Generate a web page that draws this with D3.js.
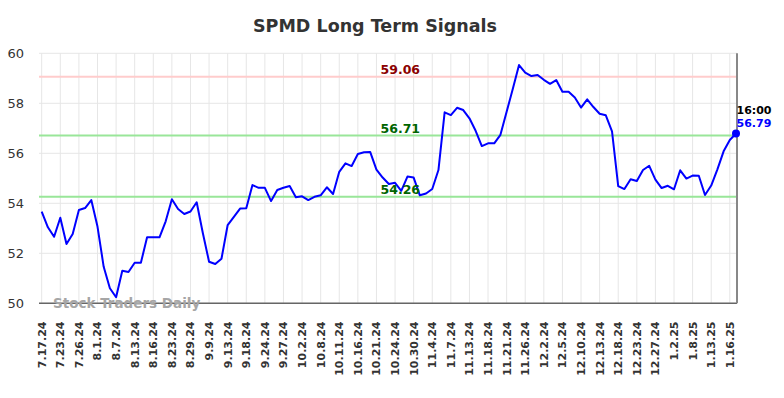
<!DOCTYPE html>
<html>
<head>
<meta charset="utf-8">
<script src="https://cdn.jsdelivr.net/npm/d3@7"></script>
<style>
  html, body { margin: 0; padding: 0; background: #fff; }
  svg { display: block; font-family: "DejaVu Sans", sans-serif; }
</style>
</head>
<body>
<div id="chart"></div>
<script>
const title = "SPMD Long Term Signals";
const tickLabels = ["7.17.24","7.23.24","7.26.24","8.1.24","8.7.24","8.13.24","8.16.24","8.23.24","8.29.24","9.9.24","9.13.24","9.18.24","9.24.24","9.27.24","10.2.24","10.8.24","10.11.24","10.16.24","10.21.24","10.24.24","10.30.24","11.4.24","11.7.24","11.13.24","11.18.24","11.21.24","11.26.24","12.2.24","12.5.24","12.10.24","12.13.24","12.18.24","12.23.24","12.27.24","1.2.25","1.8.25","1.13.25","1.16.25"];
const tickEvery = 3;
const prices = [53.67,53.04,52.66,53.42,52.37,52.77,53.73,53.81,54.13,53.07,
  51.46,50.6,50.24,51.3,51.25,51.62,51.62,52.64,52.64,52.64,
  53.28,54.16,53.77,53.57,53.67,54.04,52.8,51.66,51.57,51.78,
  53.13,53.46,53.79,53.8,54.73,54.62,54.62,54.09,54.53,54.62,
  54.69,54.24,54.28,54.13,54.26,54.32,54.64,54.37,55.26,55.6,
  55.49,55.97,56.04,56.05,55.35,55.03,54.77,54.82,54.5,55.07,
  55.03,54.32,54.39,54.57,55.33,57.64,57.53,57.82,57.73,57.4,
  56.9,56.29,56.4,56.4,56.74,57.66,58.58,59.53,59.23,59.09,
  59.13,58.94,58.78,58.93,58.46,58.46,58.23,57.83,58.16,57.85,
  57.58,57.52,56.88,54.69,54.57,54.96,54.89,55.33,55.5,54.95,
  54.61,54.7,54.56,55.32,54.99,55.11,55.1,54.33,54.71,55.36,
  56.08,56.53,56.79];
const signalValues = [59.06, 56.71, 54.26];
const signalKinds = ["resistance", "support", "support"];
const yTicks = [50, 52, 54, 56, 58, 60];
const lastTime = "16:00";
const watermark = "Stock Traders Daily";

(function () {
const W = 784, H = 398;
const pLeft = 39, pRight = 737, pTop = 53.3, pBottom = 303.3;

const svg = d3.select("#chart").append("svg").attr("width", W).attr("height", H);
svg.append("rect").attr("width", W).attr("height", H).attr("fill", "#fff");

const x = d3.scaleLinear().domain([0, prices.length - 1]).range([41.7, 736]);
const y = d3.scaleLinear().domain([50, 60]).range([pBottom, pTop]);

// grid
const grid = svg.append("g");
grid.append("g").selectAll("line").data(yTicks).join("line")
  .attr("x1", pLeft).attr("x2", pRight)
  .attr("y1", d => y(d)).attr("y2", d => y(d))
  .attr("stroke", "#e6e6e6").attr("stroke-width", 1);
grid.append("g").selectAll("line").data(tickLabels).join("line")
  .attr("x1", (d, i) => x(i * tickEvery)).attr("x2", (d, i) => x(i * tickEvery))
  .attr("y1", pTop).attr("y2", pBottom)
  .attr("stroke", "#e6e6e6").attr("stroke-width", 1);

// y tick labels
svg.append("g").selectAll("text").data(yTicks).join("text")
  .attr("x", 24).attr("y", d => y(d)).attr("dy", "0.36em")
  .attr("text-anchor", "end").attr("font-size", 13).attr("fill", "#333")
  .text(d => d);

// x tick labels
svg.append("g").selectAll("text").data(tickLabels).join("text")
  .attr("transform", (d, i) => `translate(${x(i * tickEvery)},321.5) rotate(-90)`)
  .attr("dy", "0.36em")
  .attr("text-anchor", "end").attr("font-size", 11).attr("font-weight", "bold").attr("fill", "#333")
  .text(d => d);

// signal lines
const sigColor = k => k === "resistance" ? "#ffcccc" : "#99e699";
const sigText = k => k === "resistance" ? "#8b0000" : "#006400";
svg.append("g").selectAll("line").data(signalValues).join("line")
  .attr("x1", pLeft).attr("x2", pRight)
  .attr("y1", d => y(d)).attr("y2", d => y(d))
  .attr("stroke", (d, i) => sigColor(signalKinds[i])).attr("stroke-width", 2);

// axes lines
svg.append("line").attr("x1", pLeft).attr("x2", pRight).attr("y1", pBottom).attr("y2", pBottom)
  .attr("stroke", "#666").attr("stroke-width", 1.5);
svg.append("line").attr("x1", pRight).attr("x2", pRight).attr("y1", pTop).attr("y2", pBottom)
  .attr("stroke", "#888").attr("stroke-width", 2);

// price line
svg.append("path").datum(prices)
  .attr("d", d3.line().x((d, i) => x(i)).y(d => y(d)))
  .attr("fill", "none").attr("stroke", "#0000ff").attr("stroke-width", 2)
  .attr("stroke-linejoin", "round");

// signal labels
svg.append("g").selectAll("text").data(signalValues).join("text")
  .attr("x", 380.5).attr("y", d => y(d) - 3)
  .attr("font-size", 12.5).attr("font-weight", "bold")
  .attr("fill", (d, i) => sigText(signalKinds[i]))
  .text(d => d.toFixed(2));

// last point
const li = prices.length - 1;
svg.append("circle").attr("cx", x(li)).attr("cy", y(prices[li])).attr("r", 4).attr("fill", "#0000ff");
svg.append("text").attr("x", 736.5).attr("y", 114).attr("font-size", 11).attr("font-weight", "bold")
  .attr("fill", "#000").text(lastTime);
svg.append("text").attr("x", 736.5).attr("y", 127).attr("font-size", 11).attr("font-weight", "bold")
  .attr("fill", "#0000ff").text(prices[li].toFixed(2));

// watermark
svg.append("text").attr("x", 53).attr("y", 308).attr("font-size", 13.5).attr("font-weight", "bold")
  .attr("fill", "#a6a6a6").text(watermark);

// title
svg.append("text").attr("x", 375).attr("y", 32).attr("text-anchor", "middle")
  .attr("font-size", 17.5).attr("font-weight", "bold").attr("fill", "#333").text(title);
})();
</script>
</body>
</html>
